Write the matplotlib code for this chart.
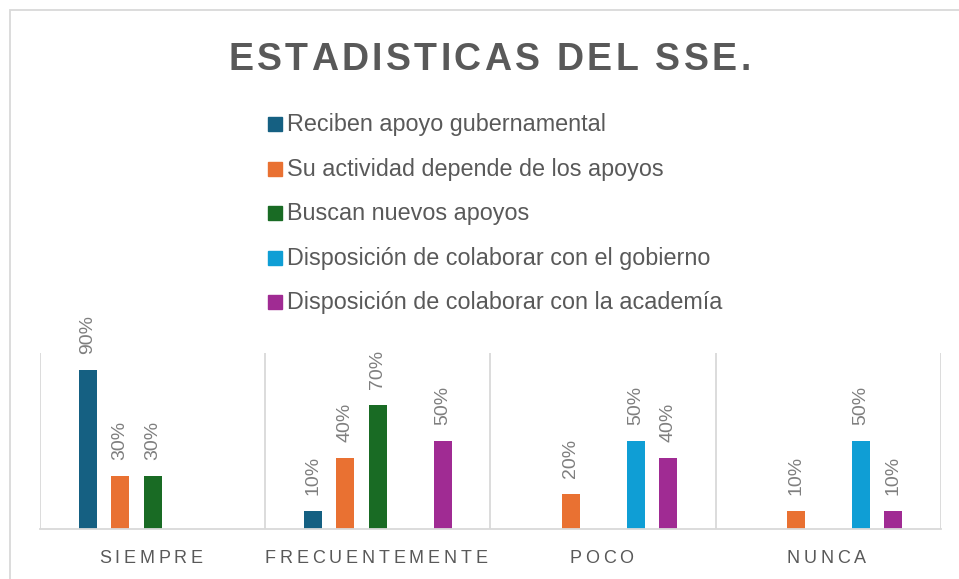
import matplotlib
matplotlib.use("Agg")
import matplotlib.pyplot as plt
import numpy as np
from matplotlib.font_manager import FontProperties, findfont
from matplotlib.ft2font import FT2Font
from matplotlib.patches import Rectangle

############################################
# Donnees du graphique
categorias = ["SIEMPRE", "FRECUENTEMENTE", "POCO", "NUNCA"]
series = ["Reciben apoyo gubernamental",
          "Su actividad depende de los apoyos",
          "Buscan nuevos apoyos",
          "Disposición de colaborar con el gobierno",
          "Disposición de colaborar con la academía"]
reciben = [0.9, 0.1, 0.0, 0.0]
depende = [0.3, 0.4, 0.2, 0.1]
buscan = [0.3, 0.7, 0.0, 0.0]
gobierno = [0.0, 0.0, 0.5, 0.5]
academia = [0.0, 0.5, 0.4, 0.1]
titulo = "ESTADISTICAS DEL SSE."

colores = ["#156082", "#E97132", "#196B24", "#0F9ED5", "#A02B93"]
gris = "#595959"
gris_claro = "#d9d9d9"

W, H, DPI = 959, 579, 100

############################################
# texte avec espacement des lettres (coord. en pixels, y depuis le haut)
def texte_espace(fig, xc, yb, s, esp, prop, color):
    f = FT2Font(findfont(prop))
    f.set_size(prop.get_size_in_points(), DPI)
    av = [f.load_char(ord(c)).linearHoriAdvance / 65536 for c in s]
    total = sum(av) + esp * len(s)
    x = xc - total / 2
    for c, a in zip(s, av):
        if c != " ":
            fig.text((x + a / 2) / W, 1 - yb / H, c, fontproperties=prop,
                     color=color, ha="center", va="baseline")
        x += a + esp

fig = plt.figure(figsize=(W / DPI, H / DPI), dpi=DPI)

# cadre exterieur
fig.add_artist(Rectangle((10 / W, -0.1), 2, 1.1 - 10 / H, transform=fig.transFigure,
                         fill=False, ec=gris_claro, lw=1.3))

ax = fig.add_axes([40 / W, (H - 529) / H, 901 / W, (529 - 352.5) / H])
valores = [reciben, depende, buscan, gobierno, academia]
x = np.arange(len(categorias))
for k, v in enumerate(valores):
    pos = x + (k - 2) * 0.1444
    ax.bar(pos, v, width=0.08, color=colores[k], label=series[k])
    for xi, vi in zip(pos, v):
        if vi > 0:
            ax.annotate(f"{vi:.0%}", (xi, vi), xytext=(0, 11.5), textcoords="offset points",
                        rotation=90, ha="center", va="bottom", fontsize=14,
                        color="#7f7f7f", family="Liberation Sans")

ax.set_xlim(-0.5, len(categorias) - 0.5)
ax.set_ylim(0, 1.0)
ax.vlines(np.arange(len(categorias) + 1) - 0.5, 0, 1, color=gris_claro, lw=1.3)
for s in ["top", "left", "right"]:
    ax.spines[s].set_visible(False)
ax.spines["bottom"].set_color(gris_claro)
ax.spines["bottom"].set_linewidth(1.3)
ax.set_xticks([])
ax.set_yticks([])

# etiquettes des categories
p_tick = FontProperties(family="Liberation Sans", size=13)
for i, c in enumerate(categorias):
    xp = ax.transData.transform((i, 0))[0]
    texte_espace(fig, xp, 563, c, 3.8, p_tick, gris)

# titre
p_tit = FontProperties(family="Liberation Sans", weight="bold", size=27)
texte_espace(fig, 491, 70, titulo, 3.3, p_tit, gris)

# legende
p_leg = FontProperties(family="Liberation Sans", size=16.8)
for k, nom in enumerate(series):
    yb = 131 + k * 44.6
    fig.add_artist(Rectangle((268 / W, 1 - yb / H), 14 / W, 14 / H,
                             transform=fig.transFigure, color=colores[k]))
    fig.text(287 / W, 1 - yb / H, nom, fontproperties=p_leg, color=gris,
             ha="left", va="baseline")

fig.savefig("out.png", dpi=DPI)
